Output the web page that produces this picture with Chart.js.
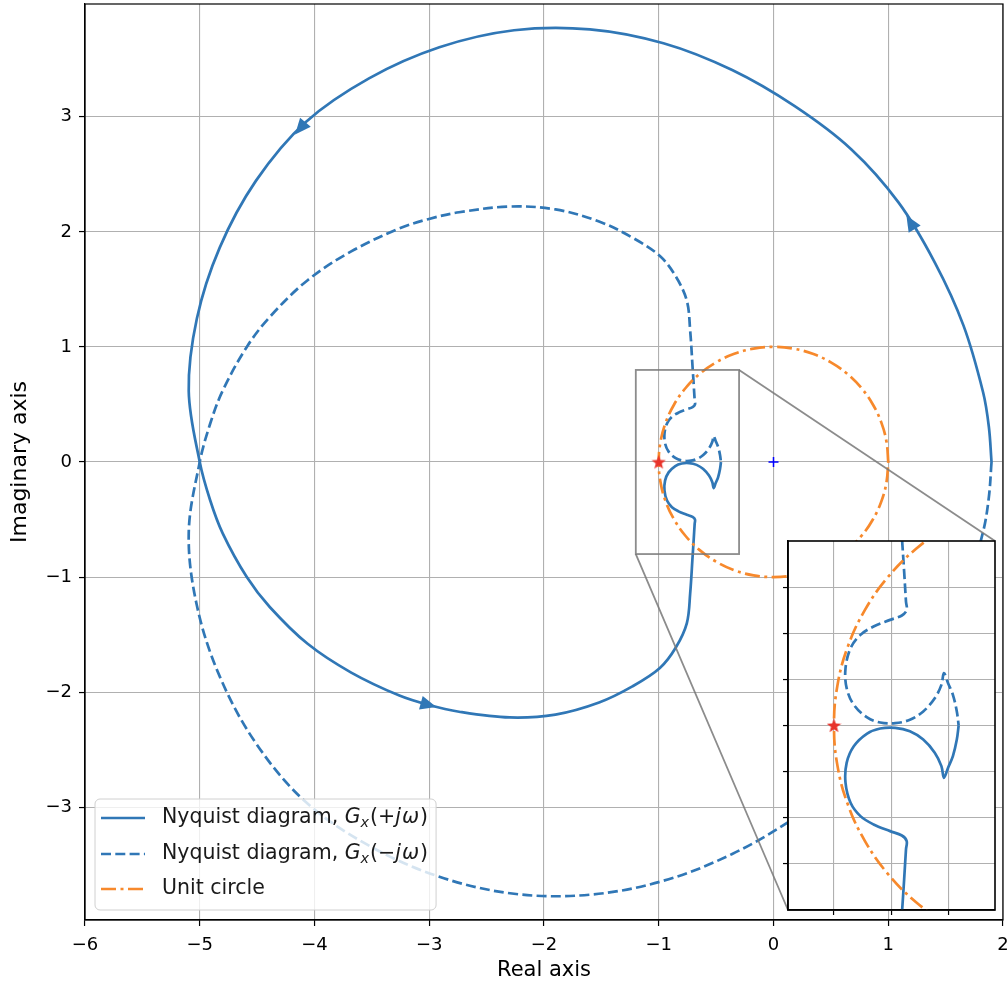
<!DOCTYPE html>
<html>
<head>
<meta charset="utf-8">
<script src="https://cdn.jsdelivr.net/npm/chart.js@4.4.1/dist/chart.umd.min.js"></script>
<style>
  html, body { margin: 0; padding: 0; background: #fff; }
  #wrap { position: relative; width: 1007px; height: 984px; }
  #inset { position: absolute; }
  canvas { display: block; }
</style>
</head>
<body>
<div id="wrap">
  <canvas id="main" width="1007" height="984"></canvas>
  <div id="inset"><canvas id="zoom"></canvas></div>
</div>
<script>
// Nyquist contour: real part shared, imaginary part for +jw and -jw
const nyqRe = [1.900, 1.877, 1.827, 1.656, 1.405, 1.089, 0.679, 0.185, -0.360, -0.959, -1.600,
  -2.261, -2.912, -3.525, -4.078, -4.511, -4.826, -5.025, -5.096, -5.000, -4.910,
  -4.800, -4.590, -4.390, -4.060, -3.680, -3.260, -3.010, -2.740, -2.300, -1.900,
  -1.520, -1.230, -0.990, -0.850, -0.755, -0.726, -0.705, -0.695, -0.687, -0.684,
  -0.705, -0.756, -0.828, -0.885, -0.928, -0.950, -0.945, -0.914, -0.856, -0.799,
  -0.734, -0.670, -0.612, -0.562, -0.533, -0.522, -0.504, -0.483, -0.466, -0.458];
const posIm = [0.000, 0.304, 0.604, 1.185, 1.735, 2.256, 2.716, 3.092, 3.406, 3.639, 3.760,
  3.752, 3.604, 3.334, 2.953, 2.443, 1.863, 1.247, 0.616, 0.000, -0.330,
  -0.620, -1.000, -1.260, -1.580, -1.830, -2.030, -2.110, -2.170, -2.220, -2.195,
  -2.090, -1.950, -1.790, -1.610, -1.400, -1.140, -0.820, -0.667, -0.537, -0.501,
  -0.477, -0.458, -0.429, -0.393, -0.335, -0.248, -0.162, -0.090, -0.035, -0.013,
  -0.010, -0.025, -0.061, -0.118, -0.176, -0.227, -0.183, -0.133, -0.061, 0.000];
const negIm = [0.000, -0.304, -0.604, -1.185, -1.735, -2.256, -2.716, -3.092, -3.406, -3.639, -3.760,
  -3.752, -3.604, -3.334, -2.953, -2.443, -1.863, -1.247, -0.616, 0.000, 0.330,
  0.620, 1.000, 1.260, 1.580, 1.830, 2.030, 2.110, 2.170, 2.220, 2.195,
  2.090, 1.950, 1.790, 1.610, 1.400, 1.140, 0.820, 0.667, 0.537, 0.501,
  0.477, 0.458, 0.429, 0.393, 0.335, 0.248, 0.162, 0.090, 0.035, 0.013,
  0.010, 0.025, 0.061, 0.118, 0.176, 0.227, 0.183, 0.133, 0.061, 0.000];
const arrowAt = [4.66, 14.1, 27]; // positions along the +jw branch (point index)

// unit circle, 10 degree steps
const circleRe = [1, 0.985, 0.940, 0.866, 0.766, 0.643, 0.5, 0.342, 0.174, 0,
  -0.174, -0.342, -0.5, -0.643, -0.766, -0.866, -0.940, -0.985, -1,
  -0.985, -0.940, -0.866, -0.766, -0.643, -0.5, -0.342, -0.174, 0,
  0.174, 0.342, 0.5, 0.643, 0.766, 0.866, 0.940, 0.985, 1];
const circleIm = [0, 0.174, 0.342, 0.5, 0.643, 0.766, 0.866, 0.940, 0.985, 1,
  0.985, 0.940, 0.866, 0.766, 0.643, 0.5, 0.342, 0.174, 0,
  -0.174, -0.342, -0.5, -0.643, -0.766, -0.866, -0.940, -0.985, -1,
  -0.985, -0.940, -0.866, -0.766, -0.643, -0.5, -0.342, -0.174, 0];

const criticalPt = [-1, 0];
const originPt = [0, 0];

const xTicks = [-6, -5, -4, -3, -2, -1, 0, 1, 2];
const yTicks = [-3, -2, -1, 0, 1, 2, 3];
const xLim = [-6, 2];
const yLim = [-3.98, 3.98];
const zoomXLim = [-1.2, -0.3];
const zoomYLim = [-0.8, 0.8];
const zoomXTicks = [-1.0, -0.75, -0.5];
const zoomYTicks = [-0.6, -0.4, -0.2, 0, 0.2, 0.4, 0.6];
const insetAt = [0.766, 0.011, 0.225, 0.403]; // axes fraction: x0, y0, w, h

const BLUE = '#3077b6';
const ORANGE = '#f7892c';
const FONT = '"DejaVu Sans", Verdana, sans-serif';

const pts = (xs, ys) => xs.map((x, i) => ({x, y: ys[i]}));
const minus = v => (v < 0 ? '\u2212' + Math.abs(v) : String(v));

function starImage(size, color) {
  const c = document.createElement('canvas');
  c.width = c.height = size;
  const g = c.getContext('2d');
  g.fillStyle = color;
  g.beginPath();
  for (let k = 0; k < 10; k++) {
    const r = k % 2 ? size * 0.21 : size * 0.5;
    const a = -Math.PI / 2 + k * Math.PI / 5;
    const px = size / 2 + r * Math.cos(a), py = size / 2 + r * Math.sin(a) + size * 0.04;
    k ? g.lineTo(px, py) : g.moveTo(px, py);
  }
  g.closePath();
  g.fill();
  return c;
}
const star = starImage(15, '#e8332b');

function makeDatasets() {
  return [
    { label: 'pos', data: pts(nyqRe, posIm), showLine: true, borderColor: BLUE, borderWidth: 2.7,
      pointRadius: 0, tension: 0.35, order: 4 },
    { label: 'neg', data: pts(nyqRe, negIm), showLine: true, borderColor: BLUE, borderWidth: 2.7,
      borderDash: [10, 4.3], pointRadius: 0, tension: 0.35, order: 3 },
    { label: 'circle', data: pts(circleRe, circleIm), showLine: true, borderColor: ORANGE, borderWidth: 2.7,
      borderDash: [15, 4.5, 3, 4.5], pointRadius: 0, tension: 0.4, order: 2 },
    { label: 'crit', data: [{x: criticalPt[0], y: criticalPt[1]}], pointStyle: star, pointRadius: 7, order: 1 },
    { label: 'origin', data: [{x: originPt[0], y: originPt[1]}], pointStyle: 'cross', pointRadius: 5,
      borderColor: '#0000ff', borderWidth: 1.5, order: 0 }
  ];
}

function insetRect(ca) {
  const w = ca.right - ca.left, h = ca.bottom - ca.top;
  const left = Math.round(ca.left + insetAt[0] * w);
  const right = Math.round(ca.left + (insetAt[0] + insetAt[2]) * w);
  const bottom = Math.round(ca.bottom - insetAt[1] * h);
  const top = Math.round(ca.bottom - (insetAt[1] + insetAt[3]) * h);
  return {left, right, top, bottom};
}

function richWidth(ctx, parts, size) {
  let w = 0;
  parts.forEach(p => {
    ctx.font = (p.it ? 'italic ' : '') + (p.sub ? size * 0.7 : size) + 'px ' + FONT;
    w += ctx.measureText(p.t).width + (p.gap || 0);
  });
  return w;
}

function drawRich(ctx, x, y, parts, size) {
  for (const p of parts) {
    const fs = p.sub ? size * 0.7 : size;
    ctx.font = (p.it ? 'italic ' : '') + fs + 'px ' + FONT;
    ctx.fillText(p.t, x, y + (p.sub ? size * 0.25 : 0));
    x += ctx.measureText(p.t).width + (p.gap || 0);
  }
  return x;
}

const legendRows = [
  [{t: 'Nyquist diagram, '}, {t: 'G', it: true}, {t: 'x', it: true, sub: true, gap: 1}, {t: '(+'}, {t: 'j', it: true, gap: 1}, {t: '\u03c9', it: true, gap: 1}, {t: ')'}],
  [{t: 'Nyquist diagram, '}, {t: 'G', it: true}, {t: 'x', it: true, sub: true, gap: 1}, {t: '(\u2212'}, {t: 'j', it: true, gap: 1}, {t: '\u03c9', it: true, gap: 1}, {t: ')'}],
  [{t: 'Unit circle'}]
];

const mainPlugin = {
  id: 'mainExtras',
  beforeDraw(chart) {
    const ctx = chart.ctx;
    ctx.save();
    ctx.fillStyle = '#fff';
    ctx.fillRect(0, 0, chart.width, chart.height);
    ctx.restore();
  },
  afterDatasetsDraw(chart) {
    const ctx = chart.ctx, xs = chart.scales.x, ys = chart.scales.y, ca = chart.chartArea;
    // direction arrows on the +jw branch
    const meta = chart.getDatasetMeta(0).data;
    ctx.save();
    ctx.fillStyle = BLUE;
    arrowAt.forEach(f => {
      const i = Math.floor(f), t = f - i;
      let px, py, ang;
      if (t === 0) {
        px = meta[i].x; py = meta[i].y;
        ang = Math.atan2(meta[i + 1].y - meta[i - 1].y, meta[i + 1].x - meta[i - 1].x);
      } else {
        const a = meta[i], b = meta[i + 1];
        px = a.x + (b.x - a.x) * t; py = a.y + (b.y - a.y) * t;
        ang = Math.atan2(b.y - a.y, b.x - a.x);
      }
      const c = Math.cos(ang), s = Math.sin(ang);
      ctx.beginPath();
      ctx.moveTo(px + 8.5 * c, py + 8.5 * s);
      ctx.lineTo(px - 7.5 * c - 7 * s, py - 7.5 * s + 7 * c);
      ctx.lineTo(px - 7.5 * c + 7 * s, py - 7.5 * s - 7 * c);
      ctx.closePath();
      ctx.fill();
    });
    // zoom indicator and connectors
    const r = insetRect(ca);
    const x0 = xs.getPixelForValue(zoomXLim[0]), x1 = xs.getPixelForValue(zoomXLim[1]);
    const y0 = ys.getPixelForValue(zoomYLim[0]), y1 = ys.getPixelForValue(zoomYLim[1]);
    ctx.strokeStyle = 'rgba(120,120,120,0.85)';
    ctx.lineWidth = 1.8;
    ctx.strokeRect(x0, y1, x1 - x0, y0 - y1);
    ctx.beginPath();
    ctx.moveTo(x1, y1); ctx.lineTo(r.right, r.top);
    ctx.moveTo(x0, y0); ctx.lineTo(r.left, r.bottom);
    ctx.stroke();
    ctx.restore();
  },
  afterDraw(chart) {
    const ctx = chart.ctx, ca = chart.chartArea;
    ctx.save();
    ctx.strokeStyle = '#000';
    ctx.lineWidth = 1.2;
    ctx.strokeRect(ca.left, ca.top, ca.right - ca.left, ca.bottom - ca.top);
    // legend
    const size = 20.5, textX = ca.left + 77, lineX0 = ca.left + 16, lineX1 = ca.left + 60;
    const maxW = Math.max(...legendRows.map(row => richWidth(ctx, row, size)));
    const boxL = ca.left + 10, boxB = ca.bottom - 10, boxH = 111;
    const boxR = textX + maxW + 8, boxT = boxB - boxH;
    ctx.beginPath();
    ctx.roundRect(boxL, boxT, boxR - boxL, boxH, 5);
    ctx.fillStyle = 'rgba(255,255,255,0.8)';
    ctx.fill();
    ctx.strokeStyle = '#d0d0d0';
    ctx.lineWidth = 1;
    ctx.stroke();
    const rowsY = [boxT + 19, boxT + 55, boxT + 90];
    const ds = chart.data.datasets;
    ctx.textBaseline = 'middle';
    legendRows.forEach((row, k) => {
      ctx.strokeStyle = ds[k].borderColor;
      ctx.lineWidth = ds[k].borderWidth;
      ctx.setLineDash(ds[k].borderDash || []);
      ctx.beginPath();
      ctx.moveTo(lineX0, rowsY[k]);
      ctx.lineTo(lineX1, rowsY[k]);
      ctx.stroke();
      ctx.setLineDash([]);
      ctx.fillStyle = '#1a1a1a';
      drawRich(ctx, textX, rowsY[k], row, size);
    });
    ctx.restore();
  }
};

const mainChart = new Chart(document.getElementById('main'), {
  type: 'scatter',
  data: { datasets: makeDatasets() },
  options: {
    responsive: false,
    animation: false,
    devicePixelRatio: 1,
    layout: { autoPadding: false, padding: { top: 4, right: 4, left: 0, bottom: 0 } },
    plugins: { legend: { display: false }, tooltip: { enabled: false } },
    scales: {
      x: {
        type: 'linear', min: xLim[0], max: xLim[1],
        afterBuildTicks: s => { s.ticks = xTicks.map(v => ({value: v})); },
        afterFit: s => { s.height = 64; s.paddingLeft = 0; s.paddingRight = 0; },
        ticks: { callback: minus, font: { family: FONT, size: 18 }, color: '#000', padding: 9, maxRotation: 0 },
        grid: { color: '#b0b0b0', lineWidth: 1.1, tickLength: 6, tickColor: '#000', tickWidth: 1.2 },
        border: { color: '#000', width: 1.2 },
        title: { display: true, text: 'Real axis', color: '#000', font: { family: FONT, size: 21 }, padding: { top: 0, bottom: 1 } }
      },
      y: {
        type: 'linear', min: yLim[0], max: yLim[1],
        afterBuildTicks: s => { s.ticks = yTicks.map(v => ({value: v})); },
        afterFit: s => { s.width = 85; s.paddingTop = 0; s.paddingBottom = 0; },
        ticks: { callback: minus, font: { family: FONT, size: 18 }, color: '#000', padding: 7 },
        grid: { color: '#b0b0b0', lineWidth: 1.1, tickLength: 6, tickColor: '#000', tickWidth: 1.2 },
        border: { color: '#000', width: 1.2 },
        title: { display: true, text: 'Imaginary axis', color: '#000', font: { family: FONT, size: 22 }, padding: { top: 7, bottom: 0 } }
      }
    }
  },
  plugins: [mainPlugin]
});

// inset axes
const r = insetRect(mainChart.chartArea);
const TL = 6;
const holder = document.getElementById('inset');
holder.style.left = (r.left - TL) + 'px';
holder.style.top = (r.top - 1) + 'px';
const zc = document.getElementById('zoom');
zc.width = r.right - r.left + TL + 1;
zc.height = r.bottom - r.top + TL + 1;

const zoomPlugin = {
  id: 'zoomFrame',
  beforeDraw(chart) {
    const ctx = chart.ctx, ca = chart.chartArea;
    ctx.save();
    ctx.fillStyle = '#fff';
    ctx.fillRect(ca.left, ca.top, ca.right - ca.left, ca.bottom - ca.top);
    ctx.restore();
  },
  afterDraw(chart) {
    const ctx = chart.ctx, ca = chart.chartArea;
    ctx.save();
    ctx.strokeStyle = '#000';
    ctx.lineWidth = 1.6;
    ctx.strokeRect(ca.left, ca.top, ca.right - ca.left, ca.bottom - ca.top);
    ctx.restore();
  }
};

const zoomSets = makeDatasets().map(d => Object.assign(d, { clip: 0 }));
new Chart(zc, {
  type: 'scatter',
  data: { datasets: zoomSets },
  options: {
    responsive: false,
    animation: false,
    devicePixelRatio: 1,
    layout: { autoPadding: false, padding: { top: 1, right: 1, left: 0, bottom: 0 } },
    plugins: { legend: { display: false }, tooltip: { enabled: false } },
    scales: {
      x: {
        type: 'linear', min: zoomXLim[0], max: zoomXLim[1],
        afterBuildTicks: s => { s.ticks = zoomXTicks.map(v => ({value: v})); },
        afterFit: s => { s.height = TL; s.paddingLeft = 0; s.paddingRight = 0; },
        ticks: { display: false },
        grid: { color: '#b0b0b0', lineWidth: 1.1, tickLength: TL - 1, tickColor: '#000', tickWidth: 1.2 },
        border: { color: '#000', width: 1.6 }
      },
      y: {
        type: 'linear', min: zoomYLim[0], max: zoomYLim[1],
        afterBuildTicks: s => { s.ticks = zoomYTicks.map(v => ({value: v})); },
        afterFit: s => { s.width = TL; s.paddingTop = 0; s.paddingBottom = 0; },
        ticks: { display: false },
        grid: { color: '#b0b0b0', lineWidth: 1.1, tickLength: TL - 1, tickColor: '#000', tickWidth: 1.2 },
        border: { color: '#000', width: 1.6 }
      }
    }
  },
  plugins: [zoomPlugin]
});
</script>
</body>
</html>
